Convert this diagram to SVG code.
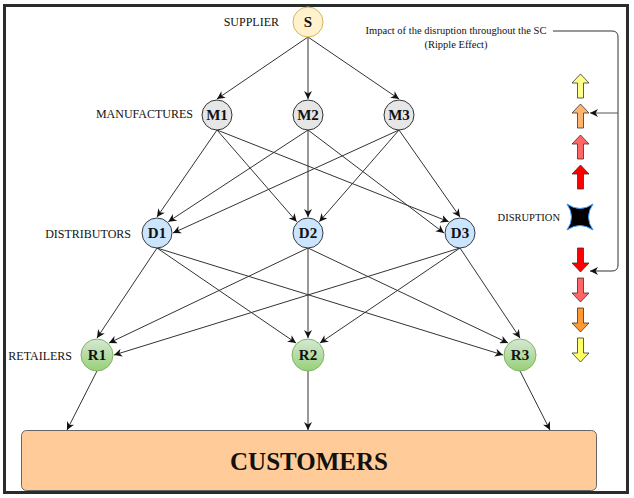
<svg xmlns="http://www.w3.org/2000/svg" xmlns:xlink="http://www.w3.org/1999/xlink" width="634" height="498" viewBox="0 0 634 498">
  <style>
    .lbl { font-family: "Liberation Serif", "Times New Roman", serif; font-size: 12px; fill: #111; dominant-baseline: central; }
    .nt { font-family: "Liberation Serif", "Times New Roman", serif; font-size: 15px; font-weight: bold; fill: #111; text-anchor: middle; dominant-baseline: central; }
    .small { font-family: "Liberation Serif", "Times New Roman", serif; font-size: 10.5px; fill: #111; dominant-baseline: central; }
    .edge { fill: none; stroke: #333; stroke-width: 1; marker-end: url(#arr); }
    .sup { fill: #fff2cc; stroke: #d6b656; stroke-width: 1; }
    .man { fill: #e6e6e6; stroke: #333; stroke-width: 1; }
    .dis { fill: #cce5ff; stroke: #36393d; stroke-width: 1; }
    .ret { fill: url(#gGreen); stroke: #82b366; stroke-width: 1; }
    .blk { stroke: #333; stroke-width: 0.8; }
  </style>
  <defs>
    <marker id="arr" viewBox="0 0 10 10" refX="10" refY="5" markerWidth="8" markerHeight="8" markerUnits="userSpaceOnUse" orient="auto">
      <path d="M0,0 L10,5 L0,10 L3,5 Z" fill="#111"/>
    </marker>
    <linearGradient id="gGreen" x1="0" y1="0" x2="0" y2="1">
      <stop offset="0" stop-color="#d5e8d4"/>
      <stop offset="1" stop-color="#97d077"/>
    </linearGradient>
    <path id="up" d="M0,0 L8.5,9 L3,9 L3,24 L-3,24 L-3,9 L-8.5,9 Z"/>
    <path id="down" d="M0,24 L8.5,15 L3,15 L3,0 L-3,0 L-3,15 L-8.5,15 Z"/>
  </defs>

  <rect x="0" y="0" width="634" height="498" fill="#ffffff"/>
  <rect id="frame" x="4.5" y="5.5" width="623" height="487" fill="#ffffff" stroke="#2b2b2b" stroke-width="3"/>

  <!-- level labels -->
  <text class="lbl" x="279" y="22" text-anchor="end">SUPPLIER</text>
  <text class="lbl" x="193" y="114" text-anchor="end">MANUFACTURES</text>
  <text class="lbl" x="131" y="234" text-anchor="end">DISTRIBUTORS</text>
  <text class="lbl" x="72" y="356" text-anchor="end">RETAILERS</text>

  <g id="connectors">
    <!-- S to M -->
    <path class="edge" d="M308,37 L217,99"/>
    <path class="edge" d="M308,37 L308,99"/>
    <path class="edge" d="M308,37 L399,99"/>
    <!-- M to D -->
    <path class="edge" d="M217,130 L157,217"/>
    <path class="edge" d="M217,130 L296.7,221.7"/>
    <path class="edge" d="M217,130 L448.7,221.7"/>
    <path class="edge" d="M308,130 L168.3,221.7"/>
    <path class="edge" d="M308,130 L308,217"/>
    <path class="edge" d="M308,130 L444,233"/>
    <path class="edge" d="M399,130 L173,233"/>
    <path class="edge" d="M399,130 L319.3,221.7"/>
    <path class="edge" d="M399,130 L460,217"/>
    <!-- D to R -->
    <path class="edge" d="M157,248 L97,338"/>
    <path class="edge" d="M157,248 L296,343"/>
    <path class="edge" d="M157,248 L503,355"/>
    <path class="edge" d="M308,248 L109,343"/>
    <path class="edge" d="M308,248 L308,338"/>
    <path class="edge" d="M308,248 L508,343"/>
    <path class="edge" d="M460,248 L114,355"/>
    <path class="edge" d="M460,248 L320,343"/>
    <path class="edge" d="M460,248 L520,338"/>
    <!-- R to customers -->
    <path class="edge" d="M97,371 L67,430"/>
    <path class="edge" d="M308,371 L308,430"/>
    <path class="edge" d="M520,371 L550,430"/>
    <!-- ripple effect -->
    <path class="edge" d="M553,31 H612 Q618,31 618,37 V265 Q618,271 612,271 H590"/>
    <path class="edge" style="stroke:#555" d="M618,113 H590"/>
  </g>

  <g id="S"><circle class="sup" cx="308" cy="22" r="15"/><text class="nt" x="308" y="22">S</text></g>
  <g id="M1"><circle class="man" cx="217" cy="115" r="15"/><text class="nt" x="217" y="115">M1</text></g>
  <g id="M2"><circle class="man" cx="308" cy="115" r="15"/><text class="nt" x="308" y="115">M2</text></g>
  <g id="M3"><circle class="man" cx="399" cy="115" r="15"/><text class="nt" x="399" y="115">M3</text></g>
  <g id="D1"><circle class="dis" cx="157" cy="233" r="15"/><text class="nt" x="157" y="233">D1</text></g>
  <g id="D2"><circle class="dis" cx="308" cy="233" r="15"/><text class="nt" x="308" y="233">D2</text></g>
  <g id="D3"><circle class="dis" cx="460" cy="233" r="15"/><text class="nt" x="460" y="233">D3</text></g>
  <g id="R1"><circle class="ret" cx="97" cy="355" r="16"/><text class="nt" x="97" y="355">R1</text></g>
  <g id="R2"><circle class="ret" cx="308" cy="355" r="16"/><text class="nt" x="308" y="355">R2</text></g>
  <g id="R3"><circle class="ret" cx="520" cy="355" r="16"/><text class="nt" x="520" y="355">R3</text></g>

  <g id="customers">
    <rect x="21.5" y="430.5" width="575" height="60" rx="5" fill="#ffcc99" stroke="#666" stroke-width="1"/>
    <text x="309" y="461" text-anchor="middle" dominant-baseline="central" font-family="Liberation Serif, Times New Roman, serif" font-size="25" font-weight="bold" fill="#111">CUSTOMERS</text>
  </g>

  <g id="ripple">
    <text class="small" x="456" y="30" text-anchor="middle">Impact of the disruption throughout the SC</text>
    <text class="small" x="456" y="44" text-anchor="middle">(Ripple Effect)</text>
  </g>

  <g id="arrows-up">
    <use xlink:href="#up" href="#up" class="blk" x="580.5" y="74" fill="#ffff88"/>
    <use xlink:href="#up" href="#up" class="blk" x="580.5" y="104" fill="#ffb570"/>
    <use xlink:href="#up" href="#up" class="blk" x="580.5" y="135" fill="#ff6666"/>
    <use xlink:href="#up" href="#up" class="blk" x="580.5" y="165" fill="#ff0000"/>
  </g>

  <g id="disruption">
    <text class="small" x="560" y="217" text-anchor="end" font-size="10">DISRUPTION</text>
    <path d="M567,204 Q580,213 593,204 Q584,217 593,230 Q580,221 567,230 Q576,217 567,204 Z" fill="#000" stroke="#3399ff" stroke-width="1"/>
  </g>

  <g id="arrows-down">
    <use xlink:href="#down" href="#down" class="blk" x="580.5" y="248" fill="#ff0000"/>
    <use xlink:href="#down" href="#down" class="blk" x="580.5" y="278" fill="#ff6666"/>
    <use xlink:href="#down" href="#down" class="blk" x="580.5" y="308" fill="#ff9933"/>
    <use xlink:href="#down" href="#down" class="blk" x="580.5" y="338" fill="#ffff66"/>
  </g>
</svg>
